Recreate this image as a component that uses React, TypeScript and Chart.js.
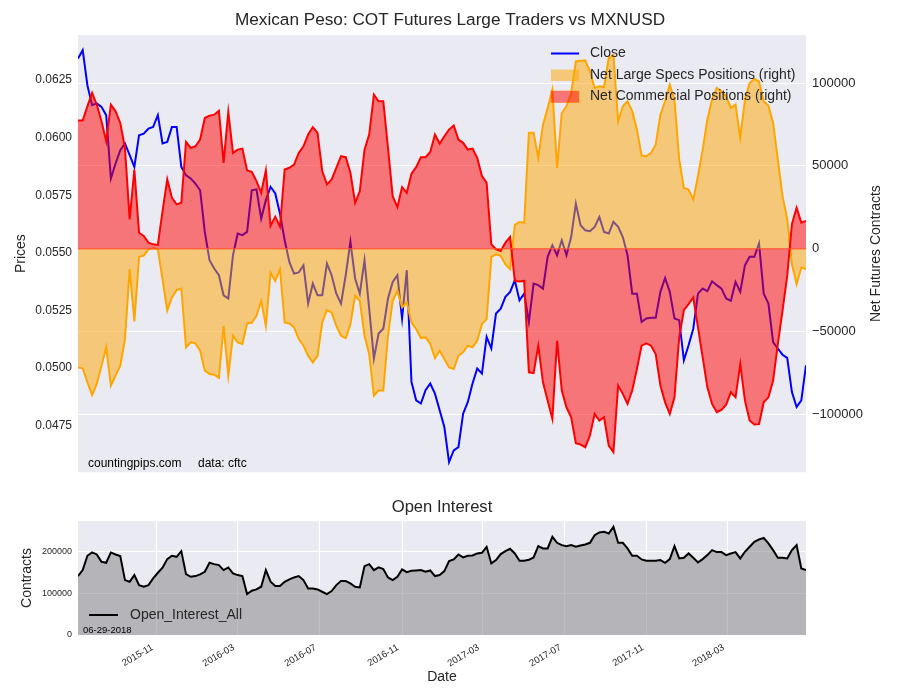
import React, { useEffect, useRef } from 'react';
import { Chart, registerables } from 'chart.js';

Chart.register(...registerables);

// ---------- data ----------
const FIRST_REPORT_DATE = '2015-07-07'; // weekly COT reports (Tuesdays)
const AS_OF_LABEL = '06-29-2018';

const CLOSE = [
  0.06344, 0.0638, 0.06228, 0.06141, 0.06149, 0.06134, 0.06098, 0.05823, 0.05888, 0.05946,
  0.05975, 0.05924, 0.05873, 0.06011, 0.06018, 0.0604, 0.06047, 0.06098, 0.05975, 0.05982,
  0.06047, 0.06047, 0.05873, 0.05837, 0.05823, 0.05801, 0.05772, 0.05591, 0.05468, 0.05432,
  0.05403, 0.05316, 0.05302, 0.0549, 0.05584, 0.05577, 0.05591, 0.05772, 0.05776, 0.05649,
  0.05729, 0.05787, 0.05758, 0.05671, 0.05555, 0.05461, 0.0541, 0.05415, 0.05446, 0.0528,
  0.05367, 0.05316, 0.05316, 0.05454, 0.05403, 0.05323, 0.0528, 0.05403, 0.05548, 0.05389,
  0.05323, 0.05468, 0.05258, 0.05041, 0.0515, 0.05171, 0.05302, 0.05374, 0.05403, 0.05215,
  0.05425, 0.0494, 0.0486, 0.04846, 0.04904, 0.04933, 0.04889, 0.04817, 0.04744, 0.04592,
  0.04643, 0.04657, 0.04802, 0.04853, 0.04933, 0.04998, 0.04976, 0.05135, 0.05085, 0.05237,
  0.05258, 0.05309, 0.05331, 0.05381, 0.05294, 0.05323, 0.052, 0.05367, 0.0536, 0.05345,
  0.05483, 0.05533, 0.0549, 0.05555, 0.0549, 0.05569, 0.05714, 0.0562, 0.05598, 0.05594,
  0.05613, 0.05656, 0.05591, 0.05584, 0.05635, 0.05613, 0.05569, 0.0549, 0.05323, 0.05323,
  0.052, 0.05215, 0.05218, 0.05218, 0.05331, 0.05391, 0.05331, 0.05215, 0.05208, 0.05034,
  0.05099, 0.05171, 0.05323, 0.05345, 0.05334, 0.05377, 0.0536, 0.05345, 0.05302, 0.05292,
  0.05374, 0.05331, 0.05446, 0.05483, 0.05483, 0.05541, 0.05323, 0.0528, 0.05113, 0.05085,
  0.05058, 0.05044, 0.04896, 0.04831, 0.0486, 0.05012,
];

const NET_LARGE_SPECS = [
  -71700, -72300, -80700, -88400, -81700, -70700, -59600, -82700, -76700, -70700,
  -54600, -12400, -44000, -5000, -4200, -400, 200, -400, -18500, -37500,
  -29500, -25100, -24100, -59600, -56600, -57200, -61600, -73700, -75700, -76100,
  -78100, -46600, -76700, -52600, -56600, -57600, -45200, -44800, -40600, -31500,
  -46600, -14500, -19500, -12400, -44600, -45200, -47600, -54600, -58600, -64700,
  -68700, -64700, -44600, -37100, -38600, -46600, -52600, -54000, -45600, -28500,
  -31500, -52600, -63700, -88800, -85700, -85700, -52600, -31500, -25500, -35500,
  -32500, -44600, -48600, -54000, -53600, -57600, -66100, -61600, -66700, -71700,
  -72700, -64700, -62600, -58600, -59600, -55600, -45600, -42600, -5000, -3400,
  -4400, -9400, -12400, 14300, 16100, 15700, 69900, 69900, 54800, 74900,
  84900, 96000, 48800, 81900, 85900, 94000, 113000, 113400, 113600, 107000,
  97000, 98000, 97600, 115000, 117000, 76900, 86000, 89000, 83000, 71900,
  56200, 55800, 57800, 62800, 80900, 89000, 99000, 90000, 53800, 36700,
  35700, 29700, 43800, 59800, 77900, 90000, 97000, 95000, 92000, 85000,
  87000, 66900, 90000, 100000, 102400, 101000, 89000, 86300, 75900, 53800,
  31700, 18000, -9400, -21500, -11400, -12400,
];

const NET_COMMERCIAL = [
  77300, 77300, 85900, 94000, 86900, 76900, 64900, 86900, 82900, 75900,
  60800, 17700, 47800, 9600, 7600, 3600, 2600, 2200, 22700, 41800,
  30700, 26700, 27700, 64500, 60800, 61800, 65900, 78900, 80300, 80900,
  83300, 51800, 82500, 57800, 59800, 60400, 47200, 46400, 40800, 33700,
  47200, 13700, 19300, 13300, 47800, 48800, 50800, 57800, 61800, 68900,
  73300, 69900, 46800, 38800, 41800, 48800, 55800, 55200, 45800, 27700,
  34700, 59800, 68900, 93000, 89000, 89000, 60800, 31700, 25100, 37100,
  33700, 45200, 49200, 55200, 55200, 58400, 68900, 63300, 67900, 71900,
  74300, 65900, 63900, 59800, 60400, 54800, 43800, 39800, 2600, -400,
  -1400, 3600, 7000, -19500, -19900, -19500, -74700, -75100, -58600, -80700,
  -91800, -102800, -55600, -85700, -95800, -101800, -117500, -118300, -119900, -112800,
  -99800, -103800, -101800, -118900, -122900, -82700, -87700, -93800, -85700, -72700,
  -58600, -57200, -58600, -63700, -82700, -92800, -99800, -89800, -53600, -37100,
  -33500, -29500, -47600, -65700, -83700, -93800, -98800, -97400, -94200, -86700,
  -89800, -69700, -91800, -103800, -106200, -106000, -92800, -89800, -79700, -57600,
  -37500, -16500, 14700, 24700, 15700, 16700,
];

const OPEN_INTEREST = [
  141600, 156000, 190400, 198400, 193600, 176000, 173600, 198400, 193600, 189600,
  132000, 128000, 144000, 120000, 116000, 120000, 136000, 149600, 161600, 182400,
  190400, 188000, 201600, 146400, 140000, 141600, 145600, 152000, 173600, 170400,
  168000, 156000, 162400, 148000, 144000, 141600, 98400, 106400, 109600, 116000,
  156000, 128000, 117600, 117600, 128000, 133600, 138400, 141600, 132000, 112000,
  112000, 109600, 104000, 98400, 105600, 120000, 129600, 129600, 124000, 116000,
  114400, 165600, 170400, 156000, 162400, 158400, 138400, 132000, 140000, 157600,
  151200, 154400, 155200, 156000, 152000, 155200, 141600, 144000, 153600, 177600,
  181600, 193600, 186400, 190400, 191200, 196000, 197600, 212000, 172000, 180000,
  194400, 201600, 207200, 196000, 178400, 178400, 180800, 186400, 213600, 208000,
  208000, 236000, 221600, 216000, 213600, 216000, 212000, 215200, 217600, 221600,
  240000, 246400, 248000, 244000, 260000, 221600, 221600, 208000, 190400, 190400,
  181600, 178400, 178400, 178400, 180000, 173600, 182400, 213600, 184000, 185600,
  196000, 185600, 174400, 182400, 192000, 204000, 199200, 199200, 192000, 196000,
  199200, 184000, 200000, 212000, 224000, 229600, 233600, 220000, 204000, 185600,
  185600, 184000, 204000, 216000, 160000, 156000,
];

const X_TICK_LABELS = ['2015-11', '2016-03', '2016-07', '2016-11', '2017-03', '2017-07', '2017-11', '2018-03'];
const PRICE_TICKS = [0.0475, 0.05, 0.0525, 0.055, 0.0575, 0.06, 0.0625];
const POSITION_TICKS = [-100000, -50000, 0, 50000, 100000];
const OI_TICKS = [0, 100000, 200000];

// ---------- helpers ----------
const DAY_MS = 86400000;
const toDay = (iso: string) => Date.parse(iso + 'T00:00:00Z') / DAY_MS;
const FIRST_DAY = toDay(FIRST_REPORT_DATE);
const DAYS = CLOSE.map((_, i) => FIRST_DAY + 7 * i);
const X_MIN = DAYS[0];
const X_MAX = DAYS[DAYS.length - 1];
const X_TICK_VALUES = X_TICK_LABELS.map((m) => toDay(m + '-01'));
const toPoints = (vals: number[]) => vals.map((y, i) => ({ x: DAYS[i], y }));

const FONT = "'Liberation Sans', Arial, Helvetica, sans-serif";
const TEXT = '#262626';
const BG = '#EAEAF2';

Chart.defaults.font.family = FONT;
Chart.defaults.color = TEXT;

const plotBg = {
  id: 'plotBg',
  beforeDraw(chart: any) {
    const { ctx, chartArea: a } = chart;
    ctx.save();
    ctx.fillStyle = BG;
    ctx.fillRect(a.left, a.top, a.right - a.left, a.bottom - a.top);
    ctx.restore();
  },
};

const topOverlay = {
  id: 'topOverlay',
  afterDraw(chart: any) {
    const { ctx, chartArea: a } = chart;
    ctx.save();
    // legend
    const lx = a.right - 255;
    const tx = a.right - 216;
    ctx.font = `14px ${FONT}`;
    ctx.textBaseline = 'middle';
    ctx.textAlign = 'left';
    ctx.strokeStyle = '#0000ff';
    ctx.lineWidth = 2;
    ctx.beginPath();
    ctx.moveTo(lx, a.top + 18.5);
    ctx.lineTo(lx + 28, a.top + 18.5);
    ctx.stroke();
    ctx.fillStyle = TEXT;
    ctx.fillText('Close', tx, a.top + 18.5);

    ctx.fillStyle = 'rgba(255,165,0,0.5)';
    ctx.fillRect(lx, a.top + 34.5, 28, 11.5);
    ctx.fillStyle = TEXT;
    ctx.fillText('Net Large Specs Positions (right)', tx, a.top + 40);

    ctx.fillStyle = 'rgba(255,0,0,0.5)';
    ctx.fillRect(lx, a.top + 56, 28, 11.5);
    ctx.strokeStyle = 'rgba(255,120,0,0.5)';
    ctx.lineWidth = 1;
    ctx.strokeRect(lx, a.top + 56, 28, 11.5);
    ctx.fillStyle = TEXT;
    ctx.fillText('Net Commercial Positions (right)', tx, a.top + 61.5);

    // watermark
    ctx.font = `12px ${FONT}`;
    ctx.fillStyle = '#000';
    ctx.fillText('countingpips.com', a.left + 10, a.bottom - 9);
    ctx.fillText('data: cftc', a.left + 120, a.bottom - 9);

    // right axis title (reads bottom-to-top)
    ctx.font = `14px ${FONT}`;
    ctx.fillStyle = TEXT;
    ctx.translate(a.right + 70, (a.top + a.bottom) / 2);
    ctx.rotate(-Math.PI / 2);
    ctx.textAlign = 'center';
    ctx.fillText('Net Futures Contracts', 0, 0);
    ctx.restore();
  },
};

const bottomOverlay = {
  id: 'bottomOverlay',
  afterDraw(chart: any) {
    const { ctx, chartArea: a } = chart;
    ctx.save();
    ctx.strokeStyle = '#000';
    ctx.lineWidth = 2;
    ctx.beginPath();
    ctx.moveTo(a.left + 11, a.bottom - 20);
    ctx.lineTo(a.left + 40, a.bottom - 20);
    ctx.stroke();
    ctx.font = `14px ${FONT}`;
    ctx.fillStyle = TEXT;
    ctx.textBaseline = 'middle';
    ctx.textAlign = 'left';
    ctx.fillText('Open_Interest_All', a.left + 52, a.bottom - 20);
    ctx.font = `9.5px ${FONT}`;
    ctx.fillStyle = '#000';
    ctx.fillText(AS_OF_LABEL, a.left + 5, a.bottom - 5);
    ctx.restore();
  },
};

const fmtSigned = (v: number) => (v < 0 ? '\u2212' + Math.abs(v) : String(v));

function topConfig(): any {
  return {
    type: 'line',
    data: {
      datasets: [
        {
          label: 'Close',
          data: toPoints(CLOSE),
          yAxisID: 'y',
          borderColor: '#0000ff',
          borderWidth: 2,
          pointRadius: 0,
          fill: false,
          order: 3,
        },
        {
          label: 'Net Large Specs Positions (right)',
          data: toPoints(NET_LARGE_SPECS),
          yAxisID: 'y1',
          borderColor: '#ffa500',
          backgroundColor: 'rgba(255,165,0,0.5)',
          borderWidth: 2,
          pointRadius: 0,
          fill: 'origin',
          order: 2,
        },
        {
          label: 'Net Commercial Positions (right)',
          data: toPoints(NET_COMMERCIAL),
          yAxisID: 'y1',
          borderColor: '#ff0000',
          backgroundColor: 'rgba(255,0,0,0.5)',
          borderWidth: 2,
          pointRadius: 0,
          fill: 'origin',
          order: 1,
        },
        {
          label: 'zero',
          data: [{ x: X_MIN, y: 0 }, { x: X_MAX, y: 0 }],
          yAxisID: 'y1',
          borderColor: 'rgba(255,80,40,0.75)',
          borderWidth: 1.5,
          pointRadius: 0,
          fill: false,
          order: 0,
        },
      ],
    },
    options: {
      animation: false,
      responsive: false,
      events: [],
      layout: { padding: { left: 0, right: 0, top: 0, bottom: 8 } },
      plugins: {
        legend: { display: false },
        tooltip: { enabled: false },
        title: {
          display: true,
          text: 'Mexican Peso: COT Futures Large Traders vs MXNUSD',
          color: TEXT,
          font: { size: 17.2, weight: 'normal' },
          padding: { top: 9.7, bottom: 4.66 },
          fullSize: true,
        },
      },
      scales: {
        x: { type: 'linear', display: false, min: X_MIN, max: X_MAX },
        y: {
          position: 'left',
          min: 0.04548,
          max: 0.06446,
          afterBuildTicks: (s: any) => {
            s.ticks = PRICE_TICKS.map((value) => ({ value }));
          },
          afterFit: (s: any) => {
            s.width = 78;
          },
          grid: { display: false, drawTicks: false },
          border: { display: false },
          ticks: {
            padding: 6,
            color: TEXT,
            font: { size: 12 },
            callback: (v: any) => Number(v).toFixed(4),
          },
          title: {
            display: true,
            text: 'Prices',
            color: TEXT,
            font: { size: 14 },
            padding: { top: 12.6, bottom: 0 },
          },
        },
        y1: {
          position: 'right',
          min: -135000,
          max: 129000,
          afterBuildTicks: (s: any) => {
            s.ticks = POSITION_TICKS.map((value) => ({ value }));
          },
          afterFit: (s: any) => {
            s.width = 94;
          },
          grid: { color: '#ffffff', lineWidth: 1, drawTicks: false },
          border: { display: false },
          ticks: {
            padding: 6,
            color: TEXT,
            font: { size: 13 },
            callback: (v: any) => fmtSigned(Number(v)),
          },
        },
      },
    },
    plugins: [plotBg, topOverlay],
  };
}

function bottomConfig(): any {
  return {
    type: 'line',
    data: {
      datasets: [
        {
          label: 'Open_Interest_All',
          data: toPoints(OPEN_INTEREST),
          borderColor: '#000000',
          backgroundColor: 'rgba(128,128,128,0.5)',
          borderWidth: 2,
          pointRadius: 0,
          fill: 'origin',
        },
      ],
    },
    options: {
      animation: false,
      responsive: false,
      events: [],
      layout: { padding: { left: 0, right: 94, top: 0, bottom: 0 } },
      plugins: {
        legend: { display: false },
        tooltip: { enabled: false },
        title: {
          display: true,
          text: 'Open Interest',
          color: TEXT,
          font: { size: 16.6, weight: 'normal' },
          padding: { top: 17.04, bottom: 4.04 },
          fullSize: false,
        },
      },
      scales: {
        x: {
          type: 'linear',
          min: X_MIN,
          max: X_MAX,
          afterBuildTicks: (s: any) => {
            s.ticks = X_TICK_VALUES.map((value) => ({ value }));
          },
          afterFit: (s: any) => {
            s.height = 65;
          },
          grid: { color: '#ffffff', lineWidth: 1, drawTicks: false },
          border: { display: false },
          ticks: {
            autoSkip: false,
            minRotation: 30,
            maxRotation: 30,
            padding: 7,
            labelOffset: -4,
            color: TEXT,
            font: { size: 9.5 },
            callback: (_v: any, i: number) => X_TICK_LABELS[i],
          },
          title: {
            display: true,
            text: 'Date',
            color: TEXT,
            font: { size: 14 },
            padding: { top: 0, bottom: 14.6 },
          },
        },
        y: {
          position: 'left',
          min: 0,
          max: 274000,
          afterBuildTicks: (s: any) => {
            s.ticks = OI_TICKS.map((value) => ({ value }));
          },
          afterFit: (s: any) => {
            s.width = 78;
          },
          grid: { color: '#ffffff', lineWidth: 1, drawTicks: false },
          border: { display: false },
          ticks: {
            padding: 6,
            color: TEXT,
            font: { size: 9 },
            callback: (v: any) => String(v),
          },
          title: {
            display: true,
            text: 'Contracts',
            color: TEXT,
            font: { size: 14 },
            padding: { top: 19, bottom: 0 },
          },
        },
      },
    },
    plugins: [plotBg, bottomOverlay],
  };
}

export default function App() {
  const topRef = useRef<HTMLCanvasElement>(null);
  const bottomRef = useRef<HTMLCanvasElement>(null);

  useEffect(() => {
    const top = new Chart(topRef.current as HTMLCanvasElement, topConfig());
    const bottom = new Chart(bottomRef.current as HTMLCanvasElement, bottomConfig());
    return () => {
      top.destroy();
      bottom.destroy();
    };
  }, []);

  return (
    <div style={{ position: 'absolute', left: 0, top: 0, width: 900, height: 700, background: '#ffffff' }}>
      <canvas ref={topRef} width={900} height={486} style={{ position: 'absolute', left: 0, top: 0 }} />
      <canvas ref={bottomRef} width={900} height={220} style={{ position: 'absolute', left: 0, top: 480 }} />
    </div>
  );
}
